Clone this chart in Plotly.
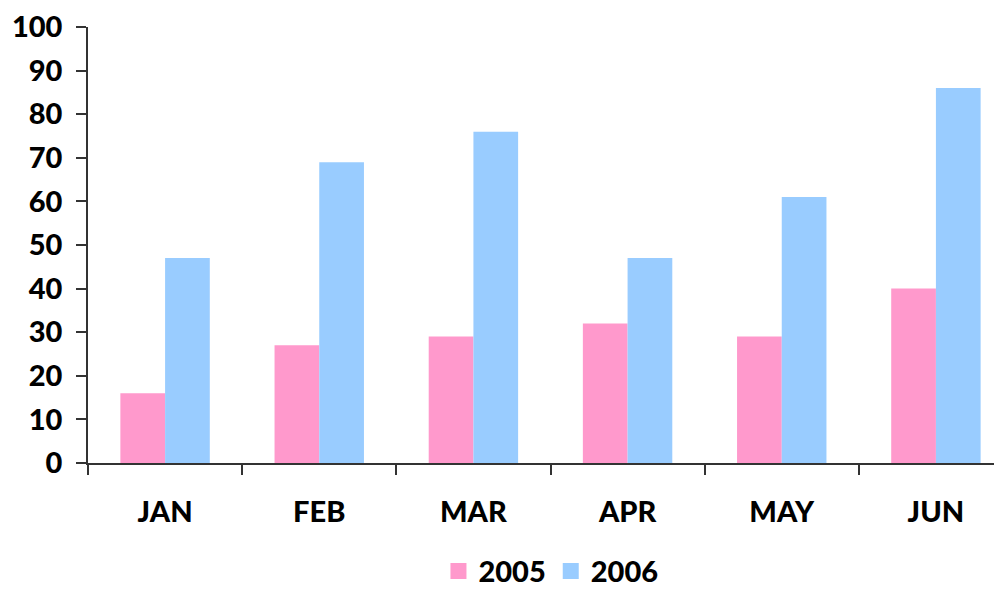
import plotly.graph_objects as go

months = ["JAN", "FEB", "MAR", "APR", "MAY", "JUN"]
sales_2005 = [16, 27, 29, 32, 29, 40]
sales_2006 = [47, 69, 76, 47, 61, 86]
y_ticks = [0, 10, 20, 30, 40, 50, 60, 70, 80, 90, 100]
series_names = ["2005", "2006"]
colors = ["#FF99CC", "#99CCFF"]

FONT = dict(family="Lato, 'DejaVu Sans', sans-serif", size=29, color="#000000", weight=900)

fig = go.Figure()
for name, vals, col in zip(series_names, [sales_2005, sales_2006], colors):
    fig.add_trace(go.Bar(name=name, x=months, y=vals, showlegend=False,
                         marker=dict(color=col, line=dict(width=0))))
# legend entries with larger square swatches
for name, col in zip(series_names, colors):
    fig.add_trace(go.Scatter(name=name, x=[None], y=[None], mode="markers",
                             marker=dict(symbol="square", size=21, color=col), showlegend=True))

fig.update_layout(
    width=1020, height=589,
    margin=dict(l=80, r=15, t=19, b=134, autoexpand=False),
    paper_bgcolor="white", plot_bgcolor="white",
    barmode="group", bargap=0.42, bargroupgap=0,
    font=FONT,
    showlegend=True,
    legend=dict(orientation="h", x=0.5005, xanchor="center", y=-0.248, yanchor="middle",
                font=FONT, itemwidth=30, traceorder="normal"),
    xaxis=dict(
        showline=True, linecolor="#333333", linewidth=1.5,
        ticks="outside", ticklen=10, tickcolor="#333333", tickwidth=1.5,
        tickson="boundaries", ticklabelstandoff=22,
        showgrid=False, tickfont=FONT,
    ),
    yaxis=dict(
        range=[0, 100], tickvals=y_ticks,
        showline=True, linecolor="#333333", linewidth=1.5,
        ticks="outside", ticklen=10, tickcolor="#333333", tickwidth=1.5,
        showgrid=False, zeroline=False, tickfont=FONT, ticklabelstandoff=8,
        ticklabeloverflow="allow",
    ),
)

fig.write_html("out.html")
